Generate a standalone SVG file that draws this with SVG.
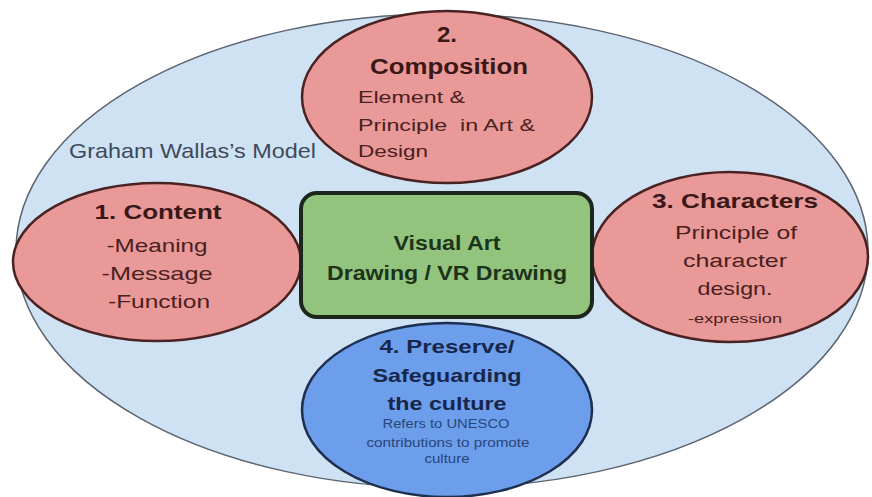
<svg xmlns="http://www.w3.org/2000/svg" width="872" height="497" viewBox="0 0 872 497">
  <style>
    text { font-family: "Liberation Sans", Arial, sans-serif; text-anchor: middle; }
    .pink { fill: #ea9999; stroke: #4a2222; stroke-width: 2.5; }
    .title { font-weight: bold; font-size: 21px; fill: #3a1818; }
    .body { font-size: 19px; fill: #4a2020; }
    .left { text-anchor: start; }
    .green { fill: #93c47d; stroke: #1c261a; stroke-width: 4; }
    .gtext { font-weight: bold; font-size: 20px; fill: #1d331a; }
    .blue { fill: #6d9eeb; stroke: #1f2f4f; stroke-width: 2.5; }
    .btitle { font-weight: bold; font-size: 19px; fill: #17264a; }
    .bsmall { font-size: 12px; fill: #27467a; }
  </style>

  <!-- outer frame: the model -->
  <g id="model">
    <ellipse cx="442" cy="251" rx="426" ry="237" fill="#cfe2f3" stroke="#5b6470" stroke-width="1.5"/>
    <text class="left" x="69" y="158" font-size="21" fill="#3e4a5c" textLength="247" lengthAdjust="spacingAndGlyphs">Graham Wallas’s Model</text>
  </g>

  <g id="connectors"></g>

  <!-- 2. Composition -->
  <g id="composition">
    <ellipse class="pink" cx="447" cy="97" rx="145" ry="86"/>
    <text class="title" x="447" y="42" style="font-size:22px" textLength="20" lengthAdjust="spacingAndGlyphs">2.</text>
    <text class="title" x="449" y="74" style="font-size:22px" textLength="158" lengthAdjust="spacingAndGlyphs">Composition</text>
    <text class="body left" x="358" y="103" style="font-size:17px" textLength="107" lengthAdjust="spacingAndGlyphs">Element &amp;</text>
    <text class="body left" x="358" y="131" style="font-size:17px;white-space:pre" xml:space="preserve" textLength="177" lengthAdjust="spacingAndGlyphs">Principle  in Art &amp;</text>
    <text class="body left" x="358" y="157" style="font-size:17px" textLength="70" lengthAdjust="spacingAndGlyphs">Design</text>
  </g>

  <!-- 1. Content -->
  <g id="content">
    <ellipse class="pink" cx="157" cy="262" rx="144" ry="79"/>
    <text class="title" x="158" y="219" textLength="127" lengthAdjust="spacingAndGlyphs">1. Content</text>
    <text class="body" x="157" y="252" textLength="101" lengthAdjust="spacingAndGlyphs">-Meaning</text>
    <text class="body" x="157" y="280" textLength="111" lengthAdjust="spacingAndGlyphs">-Message</text>
    <text class="body" x="159" y="308" textLength="102" lengthAdjust="spacingAndGlyphs">-Function</text>
  </g>

  <!-- 3. Characters -->
  <g id="characters">
    <ellipse class="pink" cx="730" cy="257" rx="138" ry="85"/>
    <text class="title" x="735" y="208" textLength="166" lengthAdjust="spacingAndGlyphs">3. Characters</text>
    <text class="body" x="736" y="239" textLength="122" lengthAdjust="spacingAndGlyphs">Principle of</text>
    <text class="body" x="735" y="267" textLength="104" lengthAdjust="spacingAndGlyphs">character</text>
    <text class="body" x="735" y="295" textLength="75" lengthAdjust="spacingAndGlyphs">design.</text>
    <text class="body" x="735" y="323" style="font-size:13px" textLength="94" lengthAdjust="spacingAndGlyphs">-expression</text>
  </g>

  <!-- centre: Visual Art -->
  <g id="visual-art">
    <rect class="green" x="301" y="193" width="291" height="124" rx="16"/>
    <text class="gtext" x="447" y="250" textLength="107" lengthAdjust="spacingAndGlyphs">Visual Art</text>
    <text class="gtext" x="447" y="280" textLength="240" lengthAdjust="spacingAndGlyphs">Drawing / VR Drawing</text>
  </g>

  <!-- 4. Preserve -->
  <g id="preserve">
    <ellipse class="blue" cx="447" cy="410" rx="145" ry="87"/>
    <text class="btitle" x="447" y="353" textLength="135" lengthAdjust="spacingAndGlyphs">4. Preserve/</text>
    <text class="btitle" x="447" y="382" textLength="149" lengthAdjust="spacingAndGlyphs">Safeguarding</text>
    <text class="btitle" x="447" y="410" textLength="119" lengthAdjust="spacingAndGlyphs">the culture</text>
    <text class="bsmall" x="446" y="428" textLength="127" lengthAdjust="spacingAndGlyphs">Refers to UNESCO</text>
    <text class="bsmall" x="448" y="447" textLength="163" lengthAdjust="spacingAndGlyphs">contributions to promote</text>
    <text class="bsmall" x="447" y="463" textLength="45" lengthAdjust="spacingAndGlyphs">culture</text>
  </g>
</svg>
